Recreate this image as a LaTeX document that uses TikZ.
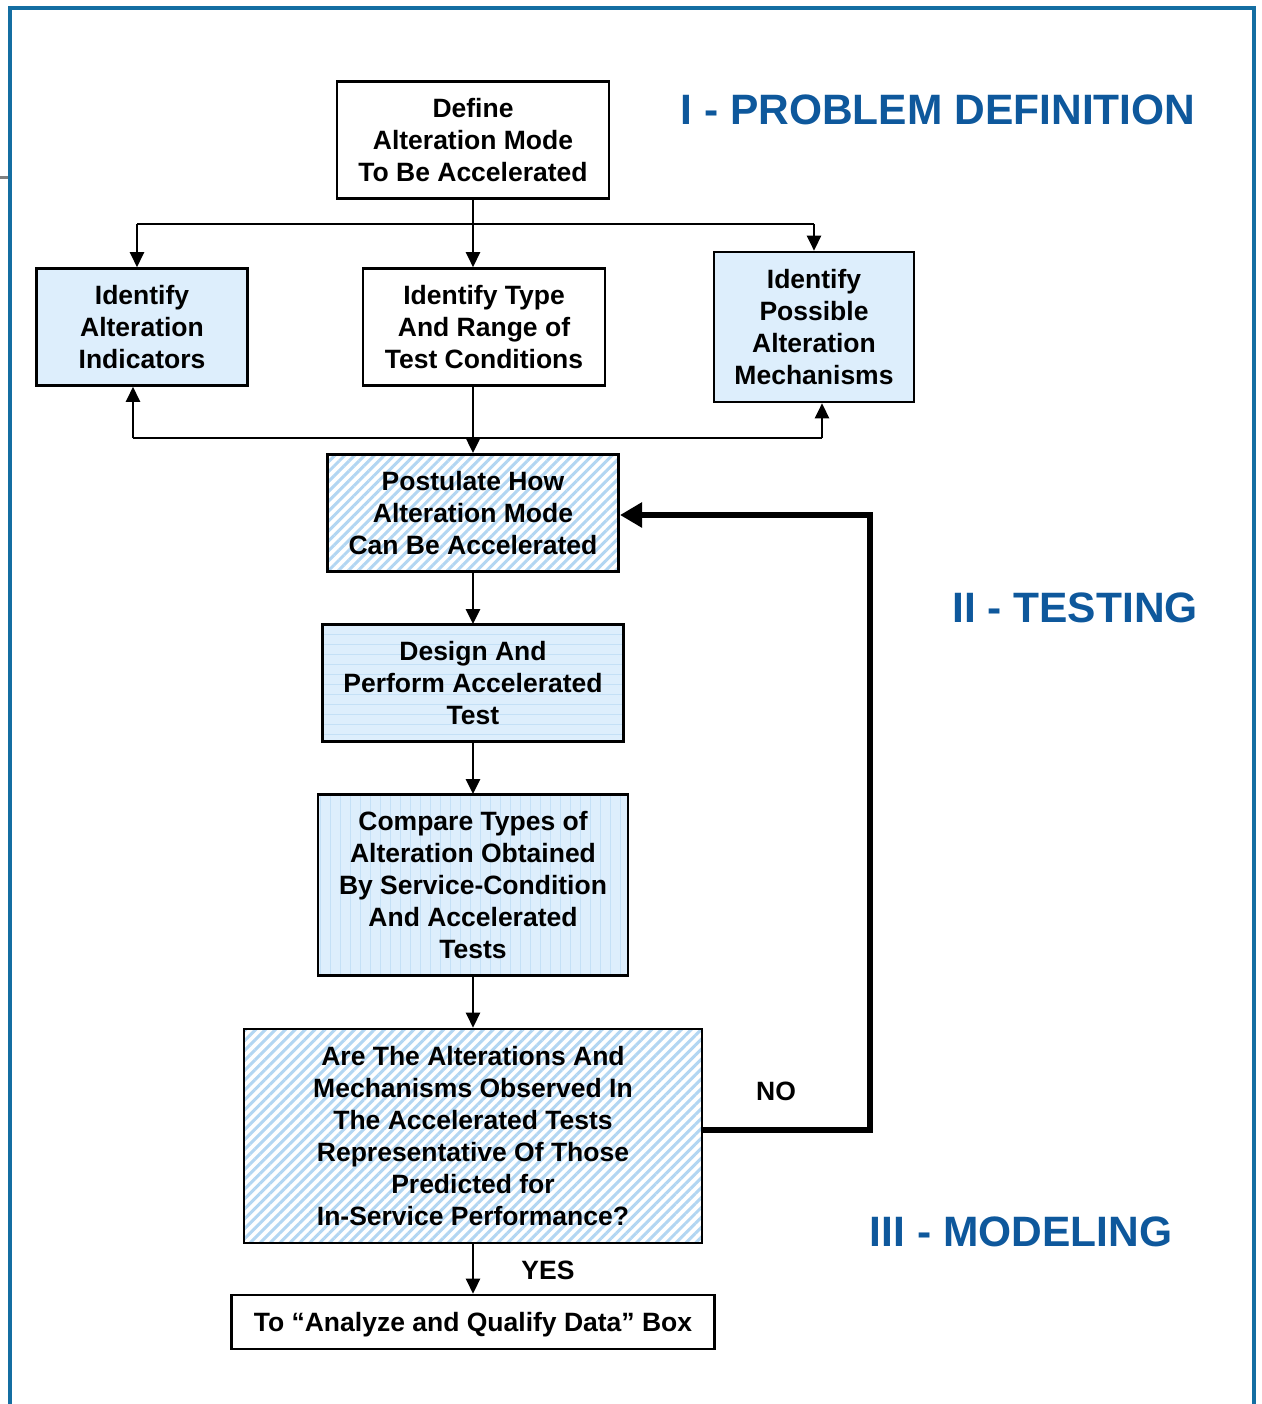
\documentclass[tikz,border=0pt]{standalone}
\usepackage{fontspec}
\setmainfont{Liberation Sans}
\usetikzlibrary{arrows.meta,patterns.meta}

\definecolor{framecol}{RGB}{20,110,162}
\definecolor{titlecol}{RGB}{14,88,156}
\definecolor{tint}{RGB}{221,238,252}
\definecolor{stripe}{RGB}{178,214,242}
\definecolor{rule}{RGB}{196,224,246}

\begin{document}
\begin{tikzpicture}[x=1pt,y=-1pt,
    plain/.style={fill=white},
    tinted/.style={fill=tint},
    striped/.style={preaction={fill=white},pattern={Lines[angle=45,distance=7pt,line width=3pt]},pattern color=stripe},
    ruled/.style={preaction={fill=tint},pattern={Lines[angle=0,distance=10pt,line width=0.8pt]},pattern color=rule},
    columned/.style={preaction={fill=tint},pattern={Lines[angle=90,distance=10pt,line width=0.8pt]},pattern color=rule},
    arr/.style={line width=2.5pt,-{Triangle[length=15pt,width=14pt]}},
    back/.style={line width=6.5pt,-{Triangle[length=22pt,width=24pt]}},
    title/.style={text=titlecol,font=\bfseries\fontsize{42.5}{50}\selectfont}]

  \useasboundingbox (0,0) rectangle (1261,1404);
  \draw[gray,line width=3pt] (0,178) -- (10,178);
  \draw[framecol,line width=4pt] (10,1404) -- (10,8) -- (1254,8) -- (1254,1404);

  \begin{scope}[every node/.style={draw,line width=2.6pt,align=center,inner sep=0pt,
      font=\bfseries\fontsize{26.5}{32}\selectfont}]
    \node[plain,minimum width=272pt,minimum height=117pt]    (define)     at (473,140)  {Define\\Alteration Mode\\To Be Accelerated};
    \node[tinted,minimum width=211pt,minimum height=117pt]   (indicators) at (142,327)  {Identify\\Alteration\\Indicators};
    \node[plain,minimum width=242pt,minimum height=117pt]    (typerange)  at (484,327)  {Identify Type\\And Range of\\Test Conditions};
    \node[tinted,minimum width=200pt,minimum height=150pt]   (mechanisms) at (814,327)  {Identify\\Possible\\Alteration\\Mechanisms};
    \node[striped,minimum width=291pt,minimum height=117pt]  (postulate)  at (473,513)  {Postulate How\\Alteration Mode\\Can Be Accelerated};
    \node[ruled,minimum width=301pt,minimum height=117pt]    (design)     at (473,683)  {Design And\\Perform Accelerated\\Test};
    \node[columned,minimum width=310pt,minimum height=181pt] (compare)    at (473,885)  {Compare Types of\\Alteration Obtained\\By Service-Condition\\And Accelerated\\Tests};
    \node[striped,minimum width=458pt,minimum height=214pt]  (question)   at (473,1136) {Are The Alterations And\\Mechanisms Observed In\\The Accelerated Tests\\Representative Of Those\\Predicted for\\In-Service Performance?};
    \node[plain,minimum width=483pt,minimum height=54pt,text depth=0pt] (analyze) at (473,1322) {To “Analyze and Qualify Data” Box};
  \end{scope}

  \coordinate (fanL)  at (137,224);
  \coordinate (fanR)  at (814,224);
  \coordinate (joinL) at (133,438);
  \coordinate (joinR) at (822,438);
  \coordinate (loopB) at (870,1130);
  \coordinate (loopT) at (870,515);

  \draw[line width=2.5pt] (fanL) -- (fanR);
  \draw[arr] (define.south) -- (define.south |- typerange.north);
  \draw[arr] (fanL) -- (fanL |- indicators.north);
  \draw[arr] (fanR) -- (fanR |- mechanisms.north);

  \draw[line width=2.5pt] (joinL) -- (joinR);
  \draw[arr] (define.south |- typerange.south) -- (define.south |- postulate.north);
  \draw[arr] (joinL) -- (joinL |- indicators.south);
  \draw[arr] (joinR) -- (joinR |- mechanisms.south);

  \begin{scope}[every edge/.style={draw,arr}]
    \path (postulate) edge (design);
    \path (design)    edge (compare);
    \path (compare)   edge (question);
    \path (question)  edge (analyze);
  \end{scope}

  \draw[back] (question.east |- loopB) -- (loopB) -- (loopT) -- (postulate.east |- loopT);

  \begin{scope}[every node/.style={font=\bfseries\fontsize{26.5}{32}\selectfont}]
    \node (no)  at (776,1091) {NO};
    \node (yes) at (548,1270) {YES};
  \end{scope}

  \node[title] (problem)  at (938,110)  {I - PROBLEM DEFINITION};
  \node[title] (testing)  at (1075,608) {II - TESTING};
  \node[title] (modeling) at (1021,1232) {III - MODELING};

\end{tikzpicture}
\end{document}
